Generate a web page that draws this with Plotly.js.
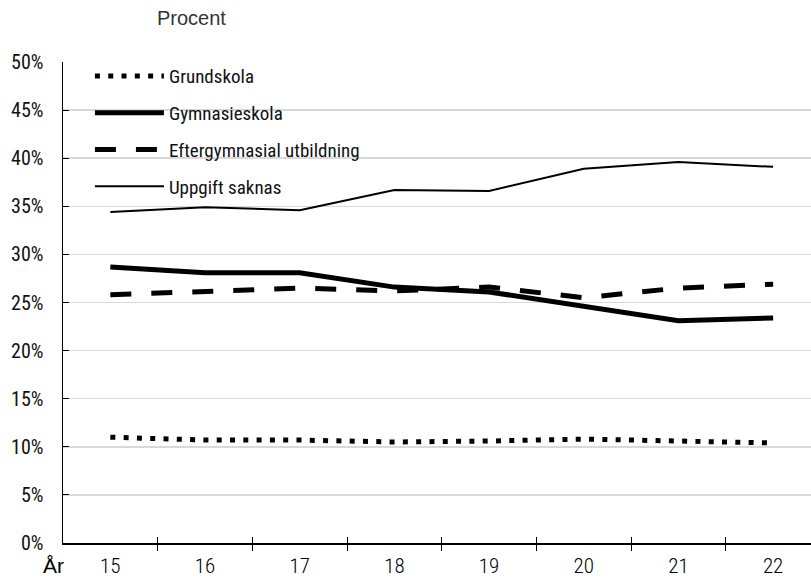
<!DOCTYPE html>
<html>
<head>
<meta charset="utf-8">
<script src="https://cdn.plot.ly/plotly-3.0.1.min.js"></script>
<style>html,body{margin:0;padding:0;background:#fff;}#chart{width:811px;height:579px;}</style>
</head>
<body>
<div id="chart"></div>
<script>
const years = [15, 16, 17, 18, 19, 20, 21, 22];
const grundskola = [11.0, 10.7, 10.7, 10.5, 10.6, 10.8, 10.6, 10.4];
const gymnasieskola = [28.7, 28.1, 28.1, 26.6, 26.1, 24.6, 23.1, 23.4];
const eftergymnasial = [25.8, 26.2, 26.5, 26.2, 26.6, 25.5, 26.5, 26.9];
const uppgiftSaknas = [34.4, 34.9, 34.6, 36.7, 36.6, 38.9, 39.6, 39.1];
const boundaries = [15.5, 16.5, 17.5, 18.5, 19.5, 20.5, 21.5];
const yTicks = [0, 5, 10, 15, 20, 25, 30, 35, 40, 45, 50];

const FONT = '"Roboto Condensed", "DejaVu Sans Condensed", sans-serif';

const traces = [
  {x: years, y: grundskola, name: 'Grundskola', mode: 'lines', legendgroup: 'a',
   line: {color: '#000', width: 5, dash: '5px,8.3px'}},
  {x: years, y: gymnasieskola, name: 'Gymnasieskola', mode: 'lines', legendgroup: 'b',
   line: {color: '#000', width: 5}},
  {x: years, y: eftergymnasial, name: 'Eftergymnasial utbildning', mode: 'lines', legendgroup: 'c',
   line: {color: '#000', width: 5, dash: '21px,20px'}},
  {x: years, y: uppgiftSaknas, name: 'Uppgift saknas', mode: 'lines', legendgroup: 'd',
   line: {color: '#000', width: 2}},
  {x: boundaries, y: boundaries.map(() => null), xaxis: 'x2', yaxis: 'y', mode: 'lines',
   showlegend: false, hoverinfo: 'skip'}
];

const layout = {
  width: 811, height: 579,
  margin: {l: 63, r: 0, t: 62, b: 36},
  paper_bgcolor: '#fff', plot_bgcolor: '#fff',
  font: {family: FONT, color: '#000', size: 18},
  showlegend: true,
  legend: {x: 0.036, y: 1.01, xanchor: 'left', yanchor: 'top', bgcolor: 'rgba(0,0,0,0)',
           font: {family: FONT, size: 19, color: '#111', weight: 400}, tracegroupgap: 9, itemwidth: 69},
  xaxis: {type: 'linear', range: [14.5, 22.4], tickmode: 'array', tickvals: years,
          ticktext: years.map(String), ticks: '', showgrid: false, zeroline: false,
          showline: true, linecolor: '#000', linewidth: 1.5, ticklabelstandoff: 3,
          tickfont: {family: FONT, size: 21, color: '#000', weight: 300},
          minor: {tickmode: 'array', tickvals: boundaries, ticks: 'outside', ticklen: 6,
                  tickcolor: '#000', tickwidth: 1, showgrid: false}},
  xaxis2: {type: 'linear', overlaying: 'x', anchor: 'y', side: 'bottom', range: [14.5, 22.4],
           tickmode: 'array', tickvals: boundaries, ticks: 'inside', ticklen: 6, tickcolor: '#000',
           tickwidth: 1, showticklabels: false, showgrid: false, zeroline: false, showline: false},
  yaxis: {range: [0, 50], tickmode: 'array', tickvals: yTicks, ticktext: yTicks.map(v => v + '%'),
          showgrid: true, gridcolor: '#d9d9d9', gridwidth: 1.5, zeroline: false,
          showline: true, linecolor: '#000', linewidth: 1.5, ticks: 'inside', ticklen: 6,
          tickcolor: '#000', tickwidth: 1, ticklabelstandoff: 14,
          tickfont: {family: FONT, size: 20, color: '#111', weight: 400}},
  annotations: [
    {text: 'Procent', xref: 'paper', yref: 'paper', x: (191 - 63) / 748, y: 1, yshift: 44,
     xanchor: 'center', yanchor: 'middle', showarrow: false,
     font: {family: '"Liberation Sans", Arial, sans-serif', size: 20, color: '#333', weight: 400}},
    {text: 'År', xref: 'paper', yref: 'paper', x: 0, xshift: -10, y: 0, yshift: -22,
     xanchor: 'center', yanchor: 'middle', showarrow: false,
     font: {family: '"Liberation Sans", Arial, sans-serif', size: 21, color: '#000', weight: 400}}
  ]
};

Plotly.newPlot('chart', traces, layout, {displayModeBar: false, staticPlot: true});
</script>
</body>
</html>
